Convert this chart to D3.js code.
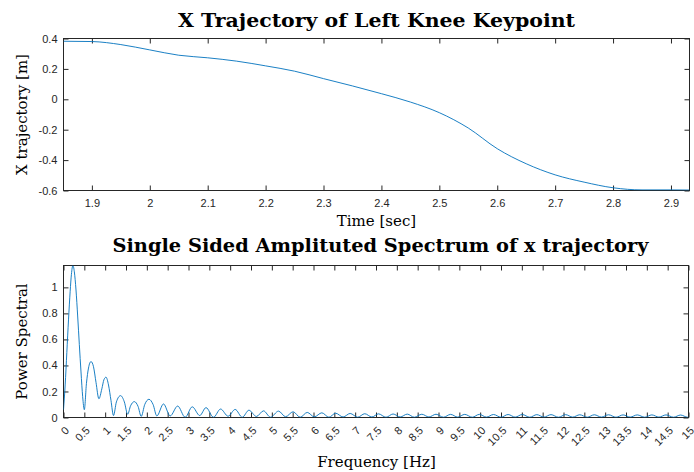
<!DOCTYPE html>
<html>
<head>
<meta charset="utf-8">
<script src="https://cdn.jsdelivr.net/npm/d3@7"></script>
<style>
  body { margin: 0; background: #fff; }
  .tick text { font-family: "Liberation Sans", Arial, sans-serif; font-size: 11px; fill: #262626; }
  .domain { display: none; }
  .tick line { stroke: #262626; }
  .lbl { font-family: "DejaVu Serif", "Liberation Serif", serif; fill: #000; }
  .ttl { font-family: "DejaVu Serif", "Liberation Serif", serif; fill: #000; font-weight: bold; }
</style>
</head>
<body>
<div id="container"></div>
<script>
/* CONSTANTS AND GLOBALS */
const width = 694;
const height = 472;

// top panel: knee x position over time
const timeSec = [1.851, 1.9, 1.95, 2.0, 2.05, 2.1, 2.15, 2.2, 2.25, 2.3, 2.35, 2.4, 2.45,
  2.5, 2.55, 2.6, 2.65, 2.7, 2.75, 2.8, 2.85, 2.9, 2.932];
const xTraj = [0.382, 0.380, 0.360, 0.325, 0.290, 0.273, 0.251, 0.220, 0.185, 0.136, 0.088, 0.037, -0.018,
  -0.088, -0.189, -0.325, -0.424, -0.497, -0.545, -0.582, -0.596, -0.596, -0.597];
const timeTicks = [1.9, 2, 2.1, 2.2, 2.3, 2.4, 2.5, 2.6, 2.7, 2.8, 2.9];
const trajTicks = [-0.6, -0.4, -0.2, 0, 0.2, 0.4];

// bottom panel: single sided spectrum (peaks / troughs)
const freqHz = [0, 0.04, 0.08, 0.12, 0.16, 0.19, 0.225, 0.26, 0.30, 0.34, 0.38, 0.42, 0.46, 0.50,
  0.55, 0.60, 0.66, 0.72, 0.78, 0.85,
  0.92, 0.97, 1.02, 1.08, 1.14, 1.20,
  1.27, 1.37, 1.46, 1.54,
  1.61, 1.70, 1.79, 1.865,
  1.95, 2.05, 2.15, 2.24,
  2.40, 2.56, 2.74, 2.92, 3.09, 3.27, 3.42, 3.60, 3.77, 3.95, 4.12, 4.29, 4.45, 4.63,
  4.80, 4.97, 5.16, 5.33, 5.51, 5.68, 5.85, 6.02, 6.20, 6.37, 6.53, 6.71, 6.88, 7.06,
  7.23, 7.40, 7.56, 7.74, 7.91, 8.08, 8.25, 8.42, 8.60, 8.77, 8.94, 9.12, 9.29, 9.46,
  9.63, 9.81, 9.98, 10.15, 10.32, 10.50, 10.67, 10.84, 11.01, 11.19, 11.36, 11.53,
  11.70, 11.88, 12.05, 12.22, 12.39, 12.57, 12.74, 12.91, 13.08, 13.26, 13.43, 13.60,
  13.77, 13.95, 14.12, 14.29, 14.46, 14.64, 14.81, 14.98, 15.0];
const power = [0.06, 0.25, 0.50, 0.75, 0.97, 1.10, 1.168, 1.12, 0.98, 0.78, 0.56, 0.35, 0.16, 0.06,
  0.26, 0.38, 0.43, 0.39, 0.27, 0.144,
  0.22, 0.29, 0.31, 0.25, 0.13, 0.015,
  0.12, 0.168, 0.12, 0.025,
  0.09, 0.122, 0.085, 0.008,
  0.10, 0.14, 0.10, 0.012,
  0.104, 0.012, 0.088, 0.002, 0.082, 0.015, 0.076, 0.002, 0.065, 0.010, 0.062, 0.002, 0.056, 0.008,
  0.051, 0.002, 0.049, 0.006, 0.044, 0.002, 0.039, 0.005, 0.036, 0.002, 0.033, 0.004, 0.031, 0.002,
  0.029, 0.004, 0.028, 0.002, 0.027, 0.004, 0.026, 0.002, 0.025, 0.004, 0.025, 0.002, 0.024, 0.003,
  0.024, 0.002, 0.024, 0.003, 0.023, 0.002, 0.023, 0.003, 0.023, 0.002, 0.022, 0.003,
  0.022, 0.002, 0.022, 0.003, 0.021, 0.002, 0.021, 0.003, 0.021, 0.002, 0.020, 0.003,
  0.020, 0.002, 0.020, 0.003, 0.020, 0.002, 0.019, 0.002, 0.003];
const freqTicks = [0, 0.5, 1, 1.5, 2, 2.5, 3, 3.5, 4, 4.5, 5, 5.5, 6, 6.5, 7, 7.5, 8, 8.5, 9, 9.5,
  10, 10.5, 11, 11.5, 12, 12.5, 13, 13.5, 14, 14.5, 15];
const powerTicks = [0, 0.2, 0.4, 0.6, 0.8, 1];

const lineColor = "#0072BD";

const svg = d3.select("#container")
  .append("svg")
    .attr("width", width)
    .attr("height", height);

/* PANEL HELPER */
function panel(box, xDom, yDom, xTicks, yTicks, xs, ys, rotateX) {
  const x = d3.scaleLinear().domain(xDom).range([box.left, box.right]);
  const y = d3.scaleLinear().domain(yDom).range([box.bottom, box.top]);

  const clipId = "clip" + Math.round(box.top);
  svg.append("clipPath").attr("id", clipId)
    .append("rect")
    .attr("x", box.left).attr("y", box.top)
    .attr("width", box.right - box.left).attr("height", box.bottom - box.top);

  // ticks on all four sides, pointing inward
  const xb = svg.append("g")
    .attr("transform", `translate(0,${box.bottom})`)
    .call(d3.axisBottom(x).tickValues(xTicks).tickSize(-5).tickPadding(rotateX ? 4 : 9).tickFormat(d => d));
  svg.append("g")
    .attr("transform", `translate(0,${box.top})`)
    .call(d3.axisTop(x).tickValues(xTicks).tickSize(-5).tickFormat(""));
  svg.append("g")
    .attr("transform", `translate(${box.left},0)`)
    .call(d3.axisLeft(y).tickValues(yTicks).tickSize(-5).tickPadding(6).tickFormat(d => d));
  svg.append("g")
    .attr("transform", `translate(${box.right},0)`)
    .call(d3.axisRight(y).tickValues(yTicks).tickSize(-5).tickFormat(""));

  if (rotateX) {
    xb.selectAll(".tick text")
      .attr("y", 0).attr("dy", "0.35em")
      .attr("text-anchor", "end")
      .attr("transform", "translate(3,11) rotate(-45)");
  }

  svg.append("rect")
    .attr("x", box.left).attr("y", box.top)
    .attr("width", box.right - box.left).attr("height", box.bottom - box.top)
    .attr("fill", "none")
    .attr("stroke", "#262626")
    .attr("stroke-width", 1);

  const line = d3.line()
    .x((d, i) => x(xs[i]))
    .y((d, i) => y(ys[i]))
    .curve(d3.curveMonotoneX);

  svg.append("path")
    .datum(xs)
    .attr("clip-path", `url(#${clipId})`)
    .attr("d", line)
    .attr("fill", "none")
    .attr("stroke", lineColor)
    .attr("stroke-width", 0.9);
}

const topBox = {left: 63.5, right: 689.5, top: 38.5, bottom: 190.5};
const botBox = {left: 63.5, right: 688.5, top: 265.5, bottom: 417.5};

panel(topBox, [1.851, 2.932], [-0.6, 0.4], timeTicks, trajTicks, timeSec, xTraj, false);
panel(botBox, [0, 15], [0, 1.168], freqTicks, powerTicks, freqHz, power, true);

/* LABELS */
const cx = (topBox.left + topBox.right) / 2;

svg.append("text").attr("class", "ttl")
  .attr("x", cx).attr("y", 27)
  .attr("text-anchor", "middle")
  .attr("textLength", 397).attr("lengthAdjust", "spacingAndGlyphs")
  .style("font-size", "19px")
  .text("X Trajectory of Left Knee Keypoint");

svg.append("text").attr("class", "lbl")
  .attr("x", cx).attr("y", 226)
  .attr("text-anchor", "middle")
  .style("font-size", "15px")
  .text("Time [sec]");

svg.append("text").attr("class", "lbl")
  .attr("transform", `translate(27,${(topBox.top + topBox.bottom) / 2}) rotate(-90)`)
  .attr("text-anchor", "middle")
  .style("font-size", "15px")
  .text("X trajectory [m]");

svg.append("text").attr("class", "ttl")
  .attr("x", cx + 4).attr("y", 252)
  .attr("text-anchor", "middle")
  .attr("textLength", 536).attr("lengthAdjust", "spacingAndGlyphs")
  .style("font-size", "19px")
  .text("Single Sided Amplituted Spectrum of x trajectory");

svg.append("text").attr("class", "lbl")
  .attr("x", cx).attr("y", 467)
  .attr("text-anchor", "middle")
  .style("font-size", "15px")
  .text("Frequency [Hz]");

svg.append("text").attr("class", "lbl")
  .attr("transform", `translate(27,${(botBox.top + botBox.bottom) / 2}) rotate(-90)`)
  .attr("text-anchor", "middle")
  .style("font-size", "15px")
  .text("Power Spectral");
</script>
</body>
</html>
